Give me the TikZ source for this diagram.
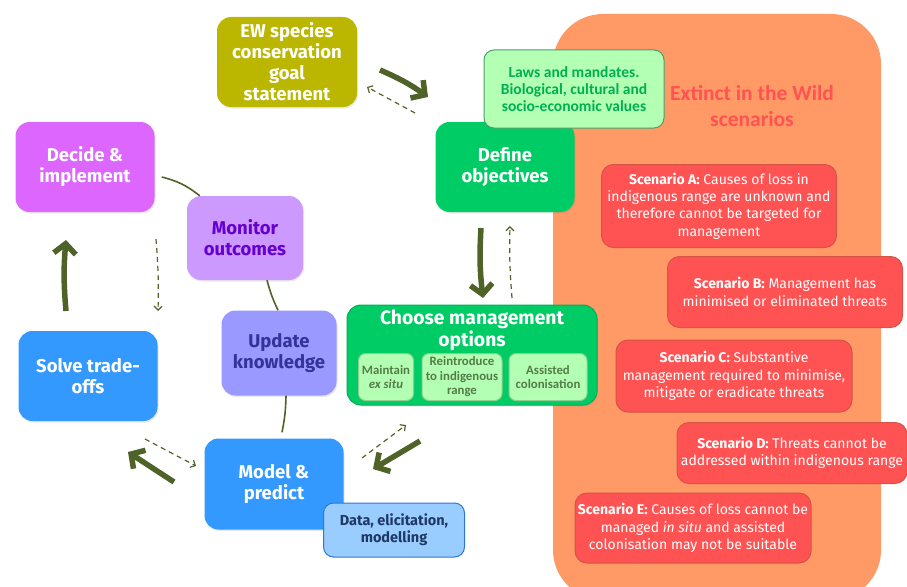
\documentclass[tikz,border=0pt]{standalone}
\usepackage{fontspec}
\setmainfont{Fira Sans}
\newfontfamily\calfont{Carlito}
\usetikzlibrary{arrows.meta,shadows}

\definecolor{goalolive}{RGB}{187,183,0}
\definecolor{lawfill}{RGB}{179,255,179}
\definecolor{lawedge}{RGB}{76,160,106}
\definecolor{lawtext}{RGB}{0,176,80}
\definecolor{objgreen}{RGB}{0,204,102}
\definecolor{optiontext}{RGB}{84,124,72}
\definecolor{ewbg}{RGB}{255,153,102}
\definecolor{ewred}{RGB}{255,82,82}
\definecolor{scenedge}{RGB}{214,84,70}
\definecolor{decidepink}{RGB}{221,102,255}
\definecolor{monfill}{RGB}{204,153,255}
\definecolor{montext}{RGB}{102,0,204}
\definecolor{updfill}{RGB}{153,153,255}
\definecolor{updtext}{RGB}{51,51,153}
\definecolor{modblue}{RGB}{51,153,255}
\definecolor{datafill}{RGB}{153,204,255}
\definecolor{dataedge}{RGB}{46,117,214}
\definecolor{datatext}{RGB}{31,56,100}
\definecolor{arrowolive}{RGB}{79,98,40}

\tikzset{
  stepbox/.style={rounded corners=14pt, align=center, inner sep=2pt, text=white,
    font=\bfseries\fontsize{18.5}{21}\selectfont,
    drop shadow={opacity=0.18, shadow xshift=1pt, shadow yshift=-1.5pt}},
  notebox/.style={rounded corners=10pt, align=center, inner sep=2pt, line width=1pt},
  optionbox/.style={notebox, fill=lawfill, draw=lawfill!80!black, rounded corners=7pt,
    text=optiontext, minimum height=47pt, font=\calfont\bfseries\fontsize{12.8}{14.5}\selectfont},
  scenbox/.style={rounded corners=12pt, fill=ewred, draw=scenedge, line width=1pt,
    text=white, align=center, inner sep=2pt, font=\fontsize{14}{17.3}\selectfont},
  fwd/.style={draw=arrowolive, line width=5.5pt,
    -{Straight Barb[length=10pt, width=22pt]}},
  bck/.style={draw=arrowolive, line width=1.2pt, dash pattern=on 5pt off 4pt,
    -{Straight Barb[length=4pt, width=8pt]}},
  link/.style={draw=arrowolive, line width=1.6pt}
}

\begin{document}
\begin{tikzpicture}[x=1pt, y=-1pt]
\useasboundingbox (0,0) rectangle (907,586);

% scenario panel
\fill[ewbg, rounded corners=50pt] (553,14) rectangle (881,600);
\node[align=center, text=ewred, font=\calfont\bfseries\fontsize{21.5}{26}\selectfont] (ewtitle) at (752,106) {Extinct in the Wild\\scenarios};

\node[scenbox, minimum width=235pt, minimum height=83pt] (scenA) at (719,206) {\textbf{Scenario A:} Causes of loss in\\indigenous range are unknown and\\therefore cannot be targeted for\\management};
\node[scenbox, minimum width=235pt, minimum height=71pt] (scenB) at (785,292) {\textbf{Scenario B:} Management has\\minimised or eliminated threats};
\node[scenbox, minimum width=236pt, minimum height=72pt] (scenC) at (734,376) {\textbf{Scenario C:} Substantive\\management required to minimise,\\mitigate or eradicate threats};
\node[scenbox, minimum width=230pt, minimum height=61pt] (scenD) at (792,453) {\textbf{Scenario D:} Threats cannot be\\addressed within indigenous range};
\node[scenbox, minimum width=236pt, minimum height=70pt] (scenE) at (693,528) {\textbf{Scenario E:} Causes of loss cannot be\\managed \textit{in situ} and assisted\\colonisation may not be suitable};

% decision cycle
\node[stepbox, fill=goalolive, minimum width=140pt, minimum height=90pt] (goal) at (287,62) {EW species\\conservation\\goal\\statement};
\node[stepbox, fill=objgreen, minimum width=139pt, minimum height=90pt] (define) at (505,167) {Define\\objectives};
\node[notebox, fill=lawfill, draw=lawedge, text=lawtext, minimum width=180pt, minimum height=78pt,
  font=\calfont\bfseries\fontsize{15.5}{17}\selectfont] (laws) at (574,89) {Laws and mandates.\\Biological, cultural and\\socio-economic values};

\node[stepbox, fill=objgreen, draw=objgreen!85!black, line width=1pt, minimum width=250pt, minimum height=100pt] (choose) at (472,355) {};
\node[text=white, align=center, font=\bfseries\fontsize{19.3}{22}\selectfont] (choosetitle) at (472,330) {Choose management\\options};
\node[optionbox, minimum width=55pt] (exsitu) at (386,377) {Maintain\\\textit{ex situ}};
\node[optionbox, minimum width=80pt] (reintro) at (462,377) {Reintroduce\\to indigenous\\range};
\node[optionbox, minimum width=78pt] (assist) at (548,377) {Assisted\\colonisation};

\node[stepbox, fill=decidepink, minimum width=139pt, minimum height=90pt] (decide) at (85,167) {Decide \&\\implement};
\node[stepbox, fill=monfill, text=montext, minimum width=116pt, minimum height=84pt] (monitor) at (245,238) {Monitor\\outcomes};
\node[stepbox, fill=updfill, text=updtext, minimum width=115pt, minimum height=85pt] (update) at (279,353) {Update\\knowledge};
\node[stepbox, fill=modblue, minimum width=139pt, minimum height=90pt] (solve) at (88,376) {Solve trade-\\offs};
\node[stepbox, fill=modblue, minimum width=139pt, minimum height=91pt] (model) at (274,484) {Model \&\\predict};
\node[notebox, fill=datafill, draw=dataedge, text=datatext, minimum width=141pt, minimum height=54pt,
  font=\bfseries\fontsize{14.5}{17}\selectfont] (data) at (394,530) {Data, elicitation,\\modelling};

% monitoring links
\draw[link] ([xshift=7pt, yshift=-10pt]decide.east) to[bend left=12] ([xshift=13pt]monitor.north west);
\draw[link] ([xshift=22pt]monitor.south) to[bend right=5] ([xshift=-1pt]update.north);
\draw[link] ([xshift=7pt]update.south) to[bend left=5] ([xshift=8pt, yshift=6pt]model.north);

% arrow ends
\coordinate (fw1a) at (380,70);  \coordinate (fw1b) at (428,97);
\coordinate (fw2a) at (481,228); \coordinate (fw2b) at (483,298);
\coordinate (fw3a) at (420,441); \coordinate (fw3b) at (373,469);
\coordinate (fw4a) at (174,482); \coordinate (fw4b) at (128,452);
\coordinate (fw5a) at (66,311);  \coordinate (fw5b) at (66,240);
\coordinate (bk1a) at (415,113); \coordinate (bk1b) at (367,87);
\coordinate (bk2a) at (512,298); \coordinate (bk2b) at (510,226);
\coordinate (bk3a) at (362,458); \coordinate (bk3b) at (406,425);
\coordinate (bk4a) at (145,439); \coordinate (bk4b) at (196,466);
\coordinate (bk5a) at (156,239); \coordinate (bk5b) at (158,311);

\draw[fwd] (fw1a) to[bend left=6] (fw1b);
\draw[fwd] (fw2a) to[bend right=5] (fw2b);
\draw[fwd] (fw3a) -- (fw3b);
\draw[fwd] (fw4a) -- (fw4b);
\draw[fwd] (fw5a) to[bend left=5] (fw5b);

\draw[bck] (bk1a) -- (bk1b);
\draw[bck] (bk2a) to[bend left=3] (bk2b);
\draw[bck] (bk3a) -- (bk3b);
\draw[bck] (bk4a) -- (bk4b);
\draw[bck] (bk5a) to[bend left=3] (bk5b);

\end{tikzpicture}
\end{document}
